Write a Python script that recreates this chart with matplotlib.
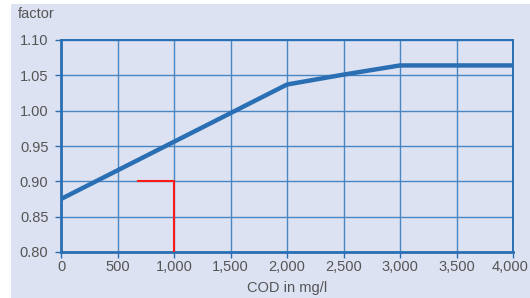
import matplotlib.pyplot as plt
import matplotlib.transforms as mtransforms
from matplotlib.patches import Rectangle

# COD correction factor curve
cod = [0, 2000, 2500, 3000, 4000]
factor = [0.875, 1.037, 1.051, 1.064, 1.064]

# red reading guide
guide_x = [680, 1000, 1000]
guide_y = [0.90, 0.90, 0.80]

x_ticks = [0, 500, 1000, 1500, 2000, 2500, 3000, 3500, 4000]
x_labels = ['0', '500', '1,000', '1,500', '2,000', '2,500', '3,000', '3,500', '4,000']
y_ticks = [0.80, 0.85, 0.90, 0.95, 1.00, 1.05, 1.10]

plt.rcParams['font.family'] = ['Liberation Sans', 'DejaVu Sans']

bg = '#dce2f1'
blue = '#2a6fb3'
grid_blue = '#4a86c2'
txt = '#555555'

fig = plt.figure(figsize=(5.3, 2.98), dpi=100)
fig.patch.set_facecolor('white')
fig.patches.append(Rectangle((11 / 530, 0), 1, (298 - 4) / 298,
                             transform=fig.transFigure, facecolor=bg,
                             edgecolor='none', zorder=-10))

ax = fig.add_axes([61 / 530, 1 - 252 / 298, 452 / 530, 212 / 298])
ax.set_facecolor(bg)

ax.plot(cod, factor, color=blue, lw=3.2, solid_capstyle='butt', zorder=3)
ax.plot(guide_x, guide_y, color='#ff1a1a', lw=1.5, zorder=4)

ax.set_xlim(0, 4000)
ax.set_ylim(0.80, 1.10)
ax.set_xticks(x_ticks)
ax.set_xticklabels(x_labels)
ax.set_yticks(y_ticks)
ax.set_yticklabels([f'{v:.2f}' for v in y_ticks])

ax.grid(True, color=grid_blue, lw=1.0)
for side in ['left', 'bottom']:
    ax.spines[side].set_color(blue)
    ax.spines[side].set_linewidth(2.0)
for side in ['top', 'right']:
    ax.spines[side].set_color(blue)
    ax.spines[side].set_linewidth(1.4)

ax.tick_params(colors=blue, labelcolor=txt, labelsize=10.5, length=4, width=1)
ax.tick_params(axis='y', pad=5)
ax.tick_params(axis='x', pad=2)

# last label sits against the right edge, nudge it in a little
last = ax.get_xticklabels()[-1]
last.set_transform(last.get_transform() +
                   mtransforms.ScaledTranslation(-3 / 100, 0, fig.dpi_scale_trans))

ax.set_xlabel('COD in mg/l', color=txt, fontsize=10.5, labelpad=5)
fig.text(18 / 530, 1 - 14 / 298, 'factor', color=txt, fontsize=10.5,
         ha='left', va='center')

fig.savefig('out.png', dpi=100, facecolor=fig.get_facecolor())
